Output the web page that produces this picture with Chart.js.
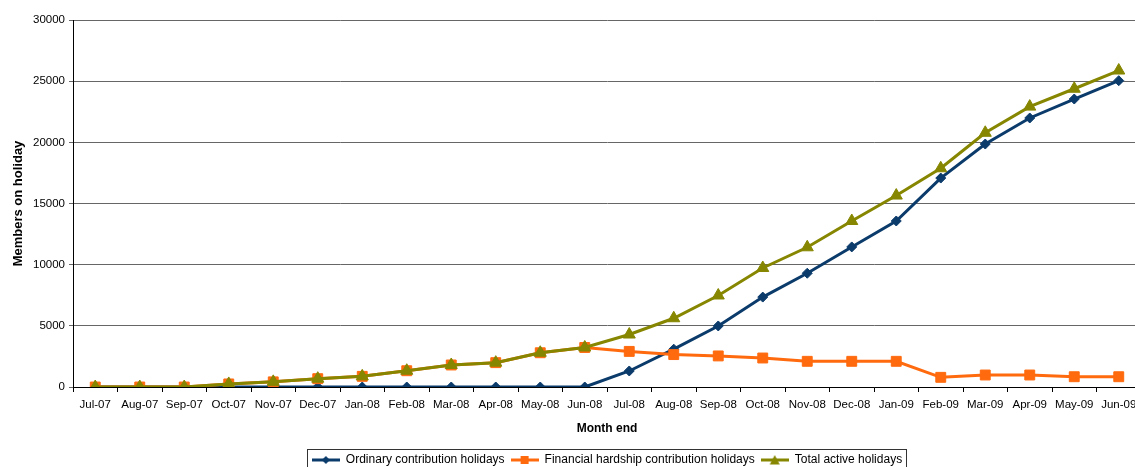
<!DOCTYPE html>
<html>
<head>
<meta charset="utf-8">
<script src="https://cdn.jsdelivr.net/npm/chart.js@4.4.1/dist/chart.umd.min.js"></script>
<style>
  html, body { margin: 0; padding: 0; background: #ffffff; overflow: hidden; }
  #wrap { width: 1150px; height: 467px; }
</style>
</head>
<body>
<div id="wrap"><canvas id="c" width="1150" height="467"></canvas></div>
<script>
const months = ['Jul-07','Aug-07','Sep-07','Oct-07','Nov-07','Dec-07','Jan-08','Feb-08','Mar-08','Apr-08','May-08','Jun-08',
                'Jul-08','Aug-08','Sep-08','Oct-08','Nov-08','Dec-08','Jan-09','Feb-09','Mar-09','Apr-09','May-09','Jun-09'];

const ordinary = [0, 0, 0, 0, 0, 0, 0, 0, 0, 0, 0, 0,
                  1310, 3090, 4990, 7350, 9300, 11450, 13570, 17080, 19860, 21990, 23540, 25040];

const hardship = [0, 0, 0, 250, 420, 680, 870, 1330, 1800, 1990, 2800, 3230,
                  2910, 2650, 2540, 2370, 2100, 2100, 2100, 790, 980, 980, 840, 840];

const totalActive = [0, 0, 0, 250, 420, 680, 870, 1330, 1800, 1990, 2800, 3230,
                     4290, 5620, 7480, 9730, 11420, 13570, 15650, 17880, 20780, 22920, 24380, 25870];

const yTicks = [0, 5000, 10000, 15000, 20000, 25000, 30000];

const seriesNames = ['Ordinary contribution holidays', 'Financial hardship contribution holidays', 'Total active holidays'];

const BLUE = '#0b3b6b';
const ORANGE = '#ff6a0e';
const OLIVE = '#868600';

// small line-plus-marker swatches for the legend
function swatch(color, shape) {
  const cv = document.createElement('canvas');
  cv.width = 28; cv.height = 12;
  const g = cv.getContext('2d');
  g.strokeStyle = color; g.fillStyle = color; g.lineWidth = 3;
  g.beginPath(); g.moveTo(0, 6); g.lineTo(28, 6); g.stroke();
  g.beginPath();
  if (shape === 'diamond') {
    g.moveTo(14, 2); g.lineTo(18, 6); g.lineTo(14, 10); g.lineTo(10, 6);
  } else if (shape === 'square') {
    g.rect(10, 2, 8, 8);
  } else {
    g.moveTo(14, 1); g.lineTo(19, 10.5); g.lineTo(9, 10.5);
  }
  g.closePath(); g.fill();
  return cv;
}
const legendIcons = [swatch(BLUE, 'diamond'), swatch(ORANGE, 'square'), swatch(OLIVE, 'triangle')];

// border around the legend row
const legendFrame = {
  id: 'legendFrame',
  afterDraw(chart) {
    const lg = chart.legend;
    if (!lg || !lg.legendHitBoxes || !lg.legendHitBoxes.length) return;
    const hb = lg.legendHitBoxes;
    const x0 = Math.min(...hb.map(b => b.left)) - 5;
    const x1 = Math.max(...hb.map(b => b.left + b.width)) + 4;
    const cy = hb[0].top + hb[0].height / 2;
    const y0 = cy - 11;
    const y1 = chart.height + 2;
    const ctx = chart.ctx;
    ctx.save();
    ctx.strokeStyle = '#333';
    ctx.lineWidth = 1;
    ctx.strokeRect(Math.round(x0) + 0.5, Math.round(y0) + 0.5, Math.round(x1 - x0), Math.round(y1 - y0));
    ctx.restore();
  }
};

const FONT = 'Liberation Sans, Arial, sans-serif';

new Chart(document.getElementById('c'), {
  type: 'line',
  data: {
    labels: months,
    datasets: [
      {
        label: seriesNames[0],
        data: ordinary,
        borderColor: BLUE, backgroundColor: BLUE,
        borderWidth: 3, pointStyle: 'rectRot', pointRadius: 5,
        pointBorderWidth: 1, pointBackgroundColor: BLUE, pointBorderColor: BLUE,
        tension: 0, order: 2
      },
      {
        label: seriesNames[1],
        data: hardship,
        borderColor: ORANGE, backgroundColor: ORANGE,
        borderWidth: 3, pointStyle: 'rect', pointRadius: 7,
        pointBorderWidth: 1, pointBackgroundColor: ORANGE, pointBorderColor: ORANGE,
        tension: 0, order: 1
      },
      {
        label: seriesNames[2],
        data: totalActive,
        borderColor: OLIVE, backgroundColor: OLIVE,
        borderWidth: 3, pointStyle: 'triangle', pointRadius: 7,
        pointBorderWidth: 1, pointBackgroundColor: OLIVE, pointBorderColor: OLIVE,
        tension: 0, order: 0
      }
    ]
  },
  options: {
    responsive: false,
    animation: false,
    layout: { padding: { top: 20, left: 0, right: 9, bottom: -9 } },
    plugins: {
      tooltip: { enabled: false },
      legend: {
        position: 'bottom',
        fullSize: false,
        labels: {
          usePointStyle: true,
          pointStyleWidth: 28,
          padding: 6,
          color: '#000',
          font: { family: FONT, size: 12 },
          generateLabels(chart) {
            return chart.data.datasets.map((ds, i) => ({
              text: ds.label,
              datasetIndex: i,
              pointStyle: legendIcons[i],
              fillStyle: ds.borderColor,
              strokeStyle: ds.borderColor,
              lineWidth: 0,
              hidden: false,
              fontColor: '#000'
            }));
          }
        }
      }
    },
    scales: {
      x: {
        type: 'category',
        offset: true,
        grid: { offset: true, drawOnChartArea: false, drawTicks: true, tickLength: 5, color: '#000' },
        border: { display: true, color: '#000', width: 1 },
        ticks: { autoSkip: false, maxRotation: 0, minRotation: 0, padding: 6, color: '#000',
                 font: { family: FONT, size: 11.5 } },
        title: { display: true, text: 'Month end', color: '#000',
                 font: { family: FONT, size: 12, weight: 'bold' }, padding: { top: 4, bottom: 12 } },
        afterFit(scale) { scale.height = 61; }
      },
      y: {
        min: 0, max: 30000,
        afterBuildTicks(scale) { scale.ticks = yTicks.map(v => ({ value: v })); },
        grid: { color: '#666', lineWidth: 1, drawTicks: true, tickLength: 4 },
        border: { display: true, color: '#000', width: 1 },
        ticks: { padding: 4, color: '#000', font: { family: FONT, size: 11.5 },
                 callback: v => String(v) },
        title: { display: true, text: 'Members on holiday', color: '#000',
                 font: { family: FONT, size: 13, weight: 'bold' }, padding: { top: 11, bottom: 0 } },
        afterFit(scale) { scale.width = 73; }
      }
    }
  },
  plugins: [legendFrame]
});
</script>
</body>
</html>
